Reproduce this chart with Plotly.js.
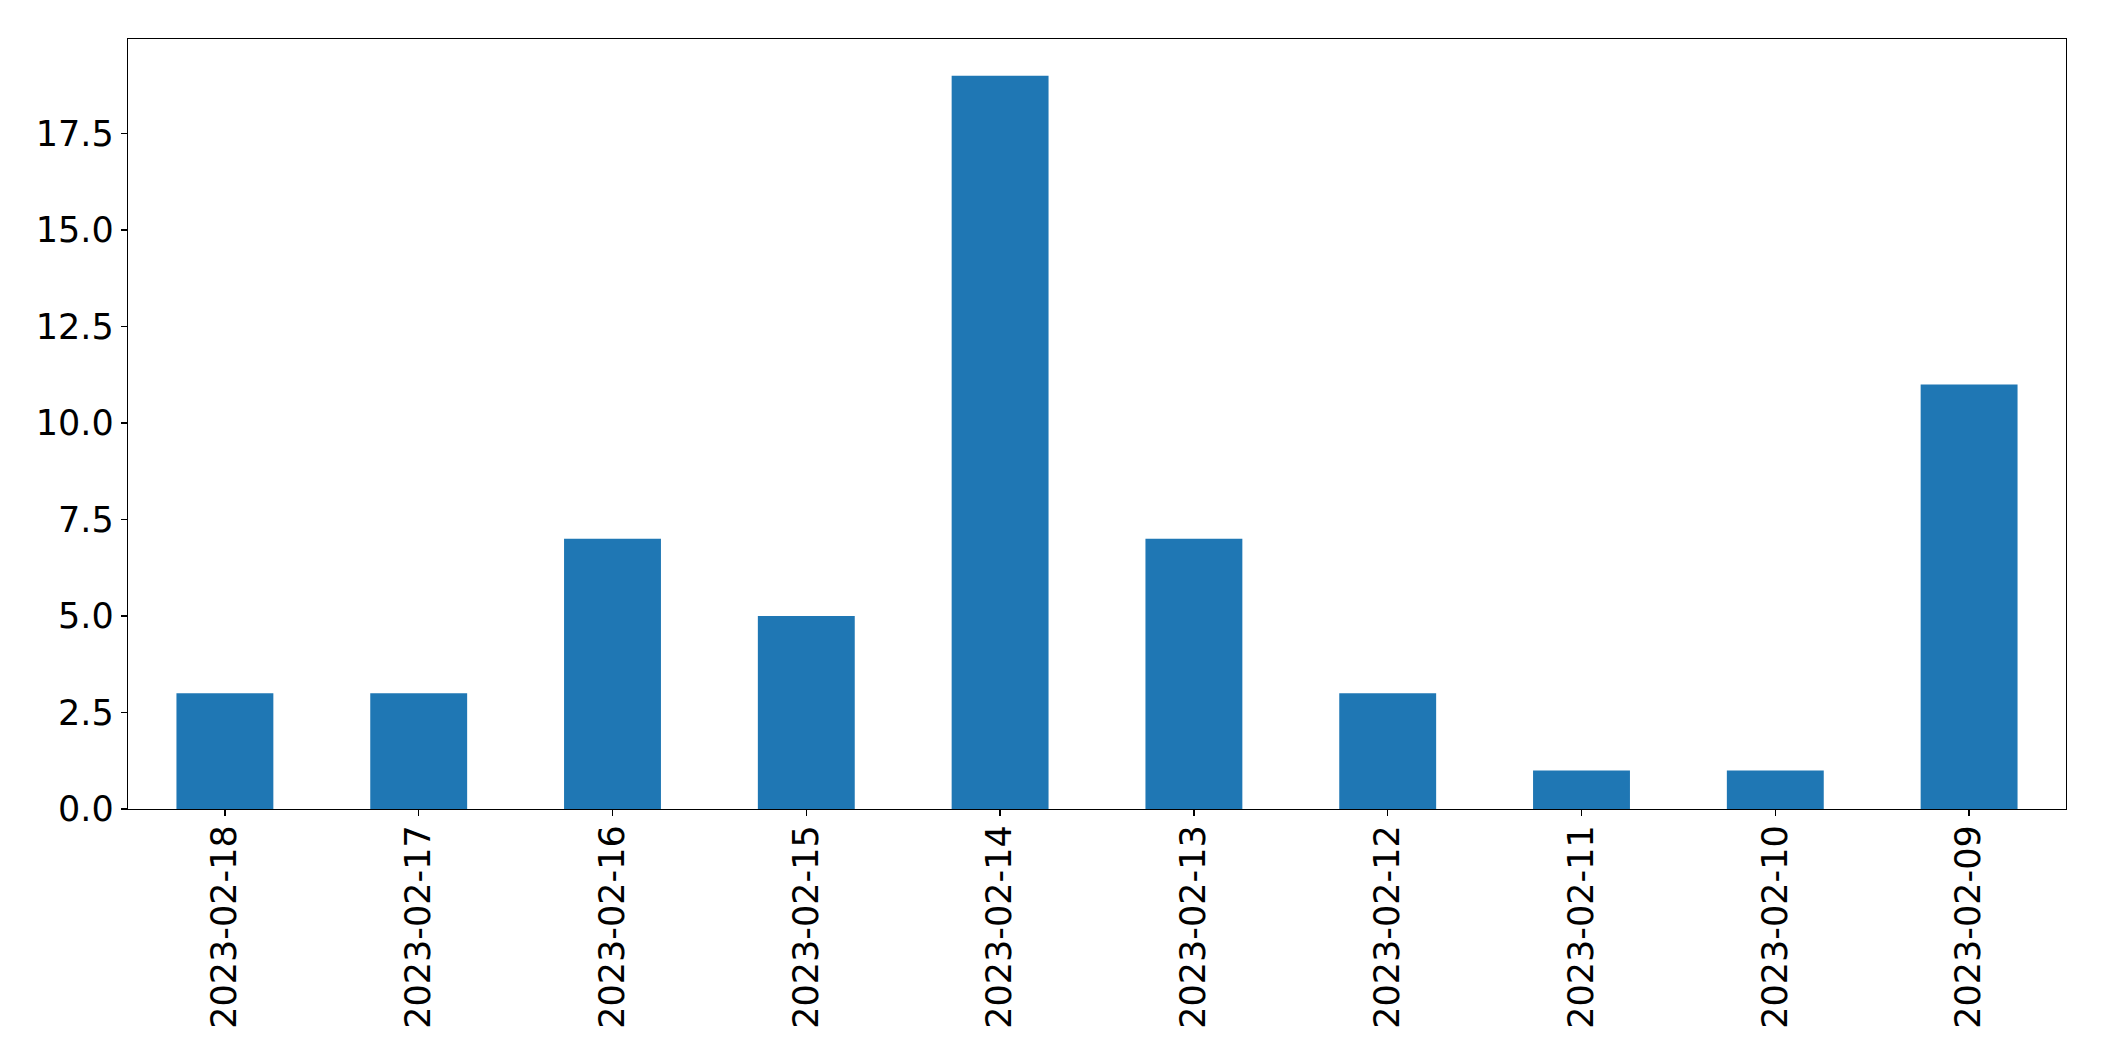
<!DOCTYPE html>
<html><head><meta charset="utf-8">
<script src="https://cdn.plot.ly/plotly-3.0.1.min.js"></script>
<style>html,body{margin:0;padding:0;background:#fff}#chart{width:2104px;height:1061px}</style>
</head><body><div id="chart"></div>
<script>
const categories = ["2023-02-18","2023-02-17","2023-02-16","2023-02-15","2023-02-14","2023-02-13","2023-02-12","2023-02-11","2023-02-10","2023-02-09"];
const values = [3,3,7,5,19,7,3,1,1,11];
const yTicks = [0,2.5,5,7.5,10,12.5,15,17.5];
const yTickText = ["0.0","2.5","5.0","7.5","10.0","12.5","15.0","17.5"];

const trace = {type:'bar', x:categories, y:values, width:0.5, marker:{color:'#1f77b4', line:{width:0}}};
const layout = {
  width:2104, height:1061,
  margin:{l:127.5, r:2104-2065.7, t:39.3, b:1061-809, pad:0},
  paper_bgcolor:'#fff', plot_bgcolor:'#fff',
  showlegend:false, bargap:0.5,
  font:{family:'DejaVu Sans', size:35, color:'#000'},
  xaxis:{type:'category', range:[-0.5,9.5], tickangle:-90, ticks:'outside', ticklen:6, tickwidth:1.3, tickcolor:'#000',
    ticklabelstandoff:-5,
    showline:true, linecolor:'#000', linewidth:1.3, mirror:true, showgrid:false, zeroline:false,
    tickfont:{family:'DejaVu Sans', size:35, color:'#000'}, automargin:false},
  yaxis:{range:[0,19.95], tickvals:yTicks, ticktext:yTickText, ticks:'outside', ticklen:6, tickwidth:1.3, tickcolor:'#000',
    showline:true, linecolor:'#000', linewidth:1.3, mirror:true, showgrid:false, zeroline:false,
    tickfont:{family:'DejaVu Sans', size:35, color:'#000'}, automargin:false}
};
Plotly.newPlot('chart',[trace],layout,{staticPlot:true, displayModeBar:false});
</script></body></html>
